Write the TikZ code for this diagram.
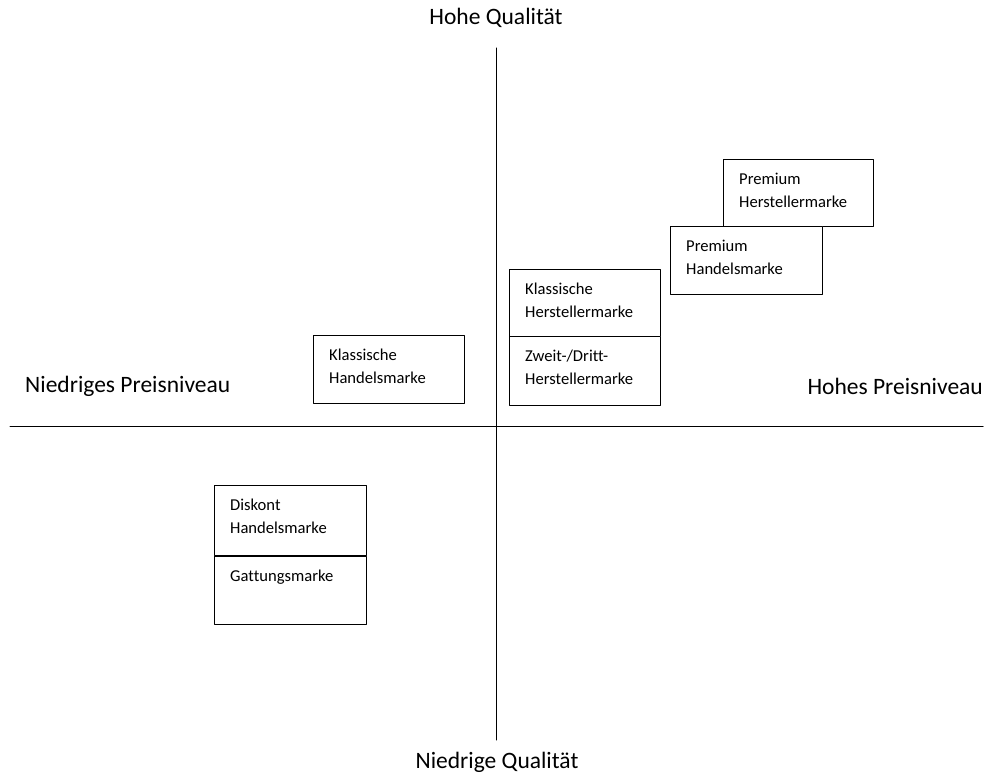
\documentclass[tikz,border=0pt]{standalone}
\usepackage{fontspec}
\setmainfont{Carlito}[Ligatures=NoCommon]
\begin{document}
\begin{tikzpicture}[x=1pt,y=-1pt,line join=round,line cap=round,
		font=\fontsize{16.6}{23}\selectfont,
		marke/.style={draw,fill=white,line width=1pt,anchor=north west,inner sep=0pt},
		achse/.style={font=\fontsize{23.5}{27}\selectfont,inner sep=0pt}]
	\useasboundingbox (0,0) rectangle (985,775);
	\path (496,48) coordinate (Q1)
	(496,740) coordinate (Q2)
	(10,426) coordinate (P1)
	(983,426) coordinate (P2)
	;
	\draw[line width=1pt] (Q1)--(Q2);
	\draw[line width=1pt] (P1)--(P2);
	% Achsenbeschriftung
	\node[achse] (hq) at (496,18) {Hohe Qualität};
	\node[achse] (nq) at (497,762) {Niedrige Qualität};
	\node[achse,anchor=west] (np) at (25,386) {Niedriges Preisniveau};
	\node[achse,anchor=east] (hp) at (983,386) {Hohes Preisniveau};
	% Marken
	\foreach \n/\x/\y/\w/\h/\t in {
		phm/723/159/150/67/{Premium\\Herstellermarke},
		phd/670/226/152/68/{Premium\\Handelsmarke},
		khm/509/269/151/67/{Klassische\\Herstellermarke},
		zdm/509/336/151/69/{Zweit-/Dritt-\\Herstellermarke},
		khd/313/335/151/68/{Klassische\\Handelsmarke},
		dhd/214/485/152/70/{Diskont\\Handelsmarke},
		gtm/214/556/152/68/{Gattungsmarke}}
	{
		\node[marke,minimum width=\w pt,minimum height=\h pt] (\n) at (\x,\y) {};
		\node[anchor=north west,inner sep=0pt,align=left] at ([shift={(16,14)}]\n.north west) {\t};
	}
\end{tikzpicture}
\end{document}
